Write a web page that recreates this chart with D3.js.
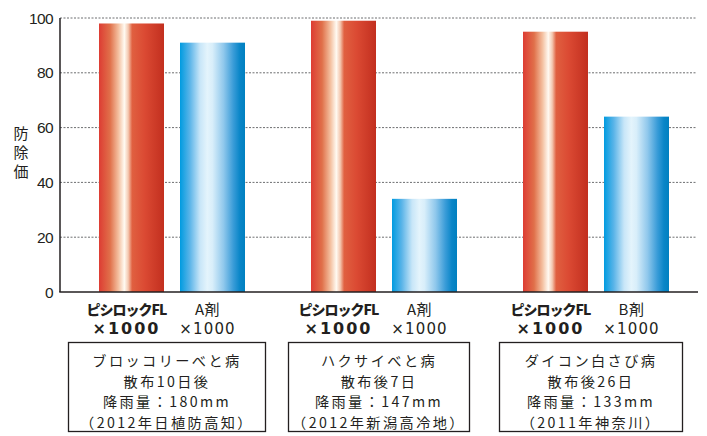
<!DOCTYPE html>
<html lang="ja">
<head>
<meta charset="UTF-8">
<title>防除価</title>
<script src="https://cdn.jsdelivr.net/npm/d3@7"></script>
<style>
  body { margin: 0; background: #fff; }
  text { fill: #231f20; }
</style>
</head>
<body>
<script>
  // data
  const groups = ['broccoli', 'hakusai', 'daikon'];
  const series = ['main', 'ref'];
  const mainValues = [98, 99, 95];
  const refValues = [91, 34, 64];
  const mainName = 'ピシロックFL';
  const refNames = ['A剤', 'A剤', 'B剤'];
  const dose = '×1000';
  const conditions = [
    ['ブロッコリーべと病', '散布10日後', '降雨量：180mm', '（2012年日植防高知）'],
    ['ハクサイべと病', '散布後7日', '降雨量：147mm', '（2012年新潟高冷地）'],
    ['ダイコン白さび病', '散布後26日', '降雨量：133mm', '（2011年神奈川）']
  ];
  const yTicks = [0, 20, 40, 60, 80, 100];
  const yTitle = ['防', '除', '価'];

  const width = 707, height = 436;
  const boxWidths = [197, 181, 183];
  const jp = '"Noto Sans CJK JP", sans-serif';

  const svg = d3.select('body').append('svg').attr('width', width).attr('height', height);
  const defs = svg.append('defs');

  // horizontal shine gradients
  const redStops = [[0, '#dd3c33'], [0.17, '#e0704a'], [0.3, '#f4c0a0'], [0.39, '#fffaf2'],
                    [0.45, '#f4c8b0'], [0.51, '#e06040'], [0.7, '#db4a33'], [1, '#c22f1f']];
  const blueStops = [[0, '#009be0'], [0.15, '#5ab4e8'], [0.31, '#c8e6f8'], [0.42, '#e4f4fc'],
                     [0.5, '#d8eefa'], [0.67, '#90c8ec'], [0.82, '#3a9cd8'], [0.92, '#0a86c8'], [1, '#0080c0']];
  [['grad-main', redStops], ['grad-ref', blueStops]].forEach(([id, stops]) => {
    defs.append('linearGradient').attr('id', id)
      .attr('x1', 0).attr('x2', 1).attr('y1', 0).attr('y2', 0)
      .selectAll('stop').data(stops).enter().append('stop')
      .attr('offset', d => d[0]).attr('stop-color', d => d[1]);
  });

  const x0 = d3.scaleBand().domain(groups).range([66, 702]);
  const x1 = d3.scaleBand().domain(series).range([33, 179]).paddingInner(16 / 81);
  const y = d3.scaleLinear().domain([0, 100]).range([292, 18]);

  // grid
  svg.append('g').selectAll('line').data(yTicks.filter(d => d > 0)).enter().append('line')
    .attr('x1', 60).attr('x2', 697)
    .attr('y1', d => y(d)).attr('y2', d => y(d))
    .attr('stroke', '#6d6e70').attr('stroke-width', 1).attr('stroke-dasharray', '2,1.5');

  // bars
  const rows = groups.map((g, i) => ({group: g, main: mainValues[i], ref: refValues[i], i}));
  const gg = svg.append('g').selectAll('g').data(rows).enter().append('g')
    .attr('transform', d => `translate(${x0(d.group)},0)`);
  gg.selectAll('rect').data(d => series.map(s => ({s, v: d[s]}))).enter().append('rect')
    .attr('x', d => x1(d.s)).attr('width', x1.bandwidth())
    .attr('y', d => y(d.v)).attr('height', d => y(0) - y(d.v))
    .attr('fill', d => `url(#grad-${d.s})`);

  // axes
  svg.append('line').attr('x1', 60).attr('x2', 60).attr('y1', y(100)).attr('y2', y(0))
    .attr('stroke', '#231f20').attr('stroke-width', 1.5);
  svg.append('line').attr('x1', 59.25).attr('x2', 698).attr('y1', y(0)).attr('y2', y(0))
    .attr('stroke', '#231f20').attr('stroke-width', 1.5);

  svg.append('g').selectAll('text').data(yTicks).enter().append('text')
    .attr('x', 53).attr('y', d => y(d) + 5.5)
    .attr('text-anchor', 'end')
    .style('font-family', '"Liberation Sans", Arial, sans-serif')
    .style('font-size', '15.5px').style('letter-spacing', '-0.6px')
    .text(d => d);

  svg.append('g').selectAll('text').data(yTitle).enter().append('text')
    .attr('x', 21).attr('y', (d, i) => 139 + i * 19)
    .attr('text-anchor', 'middle')
    .style('font-family', jp).style('font-size', '15px')
    .text(d => d);

  // category labels under bars (set slightly left of bar centre, as in the original)
  const mainX = x1('main') + x1.bandwidth() / 2 - 5;
  const refX = x1('ref') + x1.bandwidth() / 2 - 5;
  gg.append('text')
    .attr('x', mainX).attr('y', 315)
    .attr('text-anchor', 'middle')
    .style('font-family', jp).style('font-weight', 900).style('font-size', '14px')
    .style('letter-spacing', '-1px')
    .text(mainName);
  gg.append('text')
    .attr('x', mainX).attr('y', 334)
    .attr('text-anchor', 'middle')
    .style('font-family', '"DejaVu Sans", sans-serif').style('font-weight', 'bold').style('font-size', '16px')
    .style('letter-spacing', '2px')
    .text(dose);
  gg.append('text')
    .attr('x', refX).attr('y', 315)
    .attr('text-anchor', 'middle')
    .style('font-family', jp).style('font-size', '15px')
    .style('letter-spacing', '0.5px')
    .text(d => refNames[d.i]);
  gg.append('text')
    .attr('x', refX).attr('y', 334)
    .attr('text-anchor', 'middle')
    .style('font-family', '"DejaVu Sans", sans-serif').style('font-size', '15px')
    .style('letter-spacing', '1.2px')
    .text(dose);

  // condition boxes
  const cx = x0.bandwidth() / 2 - 5;
  gg.append('rect')
    .attr('x', d => cx - boxWidths[d.i] / 2).attr('y', 342.5)
    .attr('width', d => boxWidths[d.i]).attr('height', 89)
    .attr('fill', 'none').attr('stroke', '#231f20').attr('stroke-width', 1.3);
  gg.selectAll('text.cond').data(d => conditions[d.i]).enter().append('text')
    .attr('class', 'cond')
    .attr('x', cx).attr('y', (d, i) => 366 + i * 20.7)
    .attr('text-anchor', 'middle')
    .style('font-family', jp).style('font-size', '14.2px')
    .style('letter-spacing', '2.4px')
    .text(d => d);
</script>
</body>
</html>
